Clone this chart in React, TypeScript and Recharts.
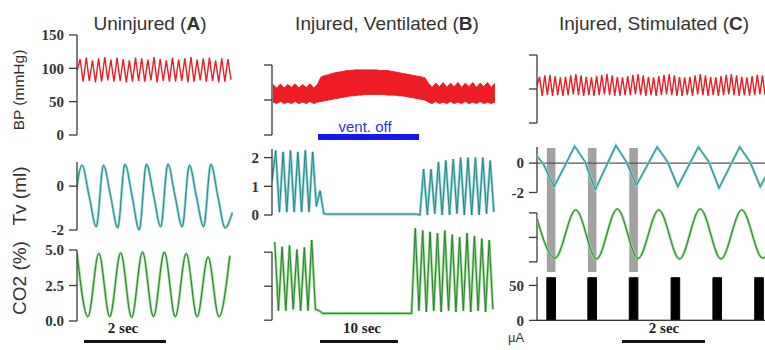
import React from 'react';
import { ComposedChart, Line, Area, XAxis, YAxis, ReferenceLine, ReferenceArea } from 'recharts';

const SANS = '"Liberation Sans", Arial, sans-serif';
const SERIF = '"Liberation Serif", "Times New Roman", serif';
const INK = '#3a3a3a';
const RED = '#ee1d24';
const TEAL_HALO = '#86d3d4';
const TEAL = '#2f8283';
const GREEN_HALO = '#8fd987';
const GREEN = '#2f7a35';

// seconds shown in each column
const spanA = 3.9;
const spanB = 32.8;
const spanC = 5.56;

// A: uninjured (BP mmHg, Tv ml, CO2 %)
const bpA = [
  96, 114, 80, 116, 81, 112, 79, 115, 80, 117,
  82, 113, 80, 116, 81, 114, 79, 112, 80, 116,
  81, 115, 80, 113, 82, 117, 79, 114, 81, 112,
  80, 116, 80, 113, 81, 115, 79, 117, 80, 113,
  82, 115, 80, 116, 81, 112, 79, 115, 80, 114, 83,
];
const tvA = [-0.8, 0.95, -0.45, -1.85, 0.95, -0.45, -1.9, 1.0, -0.45, -2.0, 1.0, -0.4, -1.85, 1.0, -0.45, -1.85, 0.95, -0.5, -1.85, 1.0, -0.5, -1.9, -1.2];
const co2A = [4.8, 0.3, 4.75, 0.3, 4.8, 0.25, 4.85, 0.3, 4.85, 0.3, 4.75, 0.3, 4.5, 0.3, 4.6];

// B: injured, ventilation stopped for a while
const bpBHigh = [
  72, 67, 73, 67, 72, 68, 73, 67, 72, 68, 73, 67, 72,
  83, 85, 86, 88, 89, 90, 91, 92, 92, 93, 93, 93, 93, 93, 93, 93, 92, 92, 92, 91, 90, 89, 88, 87, 86, 85, 84, 83, 82,
  74, 68, 74, 69, 75, 68, 74, 69, 75, 68, 74, 69, 75, 68, 74, 69, 75, 68, 74,
];
const bpBLow = [
  47, 45, 48, 45, 47, 45, 48, 45, 47, 45, 48, 45, 47,
  48, 49, 50, 51, 52, 53, 54, 55, 56, 56, 57, 57, 58, 58, 58, 58, 58, 58, 57, 57, 57, 56, 56, 55, 54, 53, 52, 51, 50,
  47, 45, 48, 45, 47, 45, 48, 45, 47, 45, 48, 45, 47, 45, 48, 45, 47, 45, 47,
];
const tvB = [
  1.2, 2.25, 0.1, 2.2, 0.1, 2.25, 0.1, 2.2, 0.1, 2.25, 0.1, 2.2,
  0.3, 0.85, 0.05,
  0.03, 0.03, 0.03, 0.03, 0.03, 0.03, 0.03, 0.03, 0.03, 0.03, 0.03, 0.03, 0.03,
  0.03, 0.03, 0.03, 0.03, 0.03, 0.03, 0.03, 0.03, 0.03, 0.03, 0.03, 0.03, 0.0,
  1.6, 0.0, 1.6, 0.05, 1.85, 0.0, 1.9, 0.0, 1.95, 0.05, 2.0, 0.0, 2.0, 0.0, 2.0, 0.0, 2.0, 0.05, 1.9, 0.1,
];
const co2B = [
  5.75, 0.7, 5.4, 0.7, 5.5, 0.8, 5.2, 0.7, 5.35, 0.7, 5.9, 0.8,
  0.7, 0.5, 0.5, 0.5, 0.5, 0.5, 0.5, 0.5, 0.5, 0.5, 0.5, 0.5, 0.5,
  0.5, 0.5, 0.5, 0.5, 0.5, 0.5, 0.5, 0.5, 0.5, 0.5, 0.5, 0.5, 0.5,
  6.75, 0.7, 6.6, 0.6, 6.5, 0.7, 6.4, 0.6, 6.6, 0.7, 6.3, 0.6, 6.1, 0.7, 6.4, 0.6, 6.2, 0.7, 6.0, 0.6, 5.9, 0.8,
];

// C: injured, phrenic stimulation
const bpC = [
  55, 68, 40, 70, 41, 71, 40, 69, 41, 67,
  40, 68, 41, 70, 42, 72, 41, 70, 40, 68,
  41, 67, 40, 69, 41, 71, 42, 72, 41, 70,
  40, 68, 40, 67, 41, 69, 41, 71, 42, 72,
  41, 70, 40, 68, 41, 67, 40, 69, 41, 71,
  42, 72, 41, 70, 40, 68, 40, 67, 41, 68,
  40, 70, 42, 72, 41, 70, 40, 68, 41, 67,
  40, 69, 41, 71, 42, 72, 41, 70, 40, 68,
  41, 67, 40, 69, 41, 71, 42, 70, 41,
];
const tvC = [0.8, -0.1, -1.6, -0.25, 1.15, 0.1, -1.8, -0.3, 1.2, 0.1, -1.5, -0.2, 1.1, 0.1, -1.6, -0.25, 1.1, 0.1, -1.7, -0.3, 1.1, 0.1, -1.6, -0.3];
const co2C = [5.4, 0.4, 5.3, 0.3, 5.4, 0.35, 5.3, 0.3, 5.4, 0.3, 5.3, 0.4, 5.2];
const stimOn = [0.24, 1.24, 2.25, 3.27, 4.29, 5.31];
const stimWidth = 0.21;
const stimAmp = 61;

const pts = (vals: number[], t0: number, dt: number) => vals.map((v, i) => ({ t: t0 + i * dt, v }));

const bpBData = bpBLow.map((lo, i) => ({ t: 0.15 + i * 0.544, range: [lo, bpBHigh[i]] }));
const stimData = [
  { t: 0, v: 0 },
  ...stimOn.flatMap((on) => [{ t: on, v: stimAmp }, { t: on + stimWidth, v: 0 }]),
  { t: spanC + 0.3, v: 0 },
];

const AXW = 46;
const PADX = 4;
const PADY = 11;

type TraceProps = {
  x: number; y: number; w: number; h: number;
  span: number;
  domain: [number, number];
  ticks: number[];
  fmt?: (v: number) => string;
  bracket?: [number, number];
  children?: React.ReactNode;
};

function Trace({ x, y, w, h, span, domain, ticks, fmt, bracket, children }: TraceProps) {
  return (
    <div style={{ position: 'absolute', left: x - AXW, top: y - PADY }}>
      <ComposedChart width={AXW + w + PADX} height={h + 2 * PADY} margin={{ top: PADY, right: PADX, bottom: PADY, left: 0 }}>
        <XAxis type="number" dataKey="t" domain={[0, span]} allowDataOverflow hide />
        <YAxis
          type="number"
          width={AXW}
          domain={domain}
          ticks={ticks}
          interval={0}
          axisLine={bracket ? false : { stroke: INK, strokeWidth: 1.3 }}
          tickLine={{ stroke: INK, strokeWidth: 1.3 }}
          tickSize={8}
          tickMargin={5}
          tick={{ fill: '#333', fontSize: 15, fontFamily: SERIF, fontWeight: 700 }}
          tickFormatter={fmt ?? (() => '')}
        />
        {bracket && (
          <ReferenceLine
            ifOverflow="visible"
            stroke={INK}
            strokeWidth={1.3}
            segment={[{ x: 0, y: bracket[0] }, { x: 0, y: bracket[1] }]}
          />
        )}
        {children}
      </ComposedChart>
    </div>
  );
}

const glow = (data: { t: number; v: number }[], halo: string, core: string, type: 'linear' | 'monotone') => [
  <Line key="halo" data={data} dataKey="v" type={type} stroke={halo} strokeWidth={2.6} dot={false} isAnimationActive={false} />,
  <Line key="core" data={data} dataKey="v" type={type} stroke={core} strokeWidth={1} dot={false} isAnimationActive={false} />,
];

const Label = ({ x, y, size, children }: { x: number; y: number; size: number; children: React.ReactNode }) => (
  <div style={{ position: 'absolute', left: x, top: y, transform: 'translate(-50%, -50%) rotate(-90deg)', whiteSpace: 'nowrap', fontSize: size, lineHeight: 1, color: '#333' }}>
    {children}
  </div>
);

const Title = ({ x, children }: { x: number; children: React.ReactNode }) => (
  <div style={{ position: 'absolute', left: x, top: 23, transform: 'translate(-50%, -50%)', whiteSpace: 'nowrap', fontSize: 19, lineHeight: 1, color: '#333' }}>
    {children}
  </div>
);

const ScaleBar = ({ x1, x2, cx, label }: { x1: number; x2: number; cx: number; label: string }) => (
  <>
    <div style={{ position: 'absolute', left: cx, top: 328, transform: 'translate(-50%, -50%)', fontFamily: SERIF, fontWeight: 700, fontSize: 15, lineHeight: 1, whiteSpace: 'nowrap', color: '#222' }}>
      {label}
    </div>
    <div style={{ position: 'absolute', left: x1, top: 340, width: x2 - x1, height: 3, background: '#111' }} />
  </>
);

const App: React.FC = () => {
  const fmt1 = (v: number) => v.toFixed(1);
  const fmt0 = (v: number) => String(v);
  return (
    <div style={{ position: 'absolute', left: 0, top: 0, width: 765, height: 350, overflow: 'hidden', background: '#fff', fontFamily: SANS }}>
      <Title x={150}>Uninjured (<b>A</b>)</Title>
      <Title x={387}>Injured, Ventilated (<b>B</b>)</Title>
      <Title x={654}>Injured, Stimulated (<b>C</b>)</Title>

      <Label x={19} y={90} size={15.5}>BP (mmHg)</Label>
      <Label x={19} y={196} size={19}>Tv (ml)</Label>
      <Label x={19} y={278} size={19}>CO2 (%)</Label>

      {/* A */}
      <Trace x={77} y={35} w={156} h={100} span={spanA} domain={[0, 150]} ticks={[0, 50, 100, 150]} fmt={fmt0}>
        <Line data={pts(bpA, 0, 0.077)} dataKey="v" type="linear" stroke={RED} strokeWidth={1.4} dot={false} isAnimationActive={false} />
      </Trace>
      <Trace x={77} y={162} w={156} h={68} span={spanA} domain={[-2, 1.1]} ticks={[-2, 0]} fmt={fmt0}>
        {glow(pts(tvA, -0.055, 0.179), TEAL_HALO, TEAL, 'monotone')}
      </Trace>
      <Trace x={77} y={250} w={156} h={71} span={spanA} domain={[0, 5]} ticks={[0, 2.5, 5]} fmt={fmt1}>
        {glow(pts(co2A, 0, 0.273), GREEN_HALO, GREEN, 'monotone')}
      </Trace>
      <ScaleBar x1={84} x2={166} cx={123} label="2 sec" />

      {/* B */}
      <Trace x={272} y={65} w={223} h={70} span={spanB} domain={[0, 100]} ticks={[0, 50, 100]}>
        <Area data={bpBData} dataKey="range" type="linear" stroke={RED} strokeWidth={1} fill={RED} fillOpacity={1} isAnimationActive={false} />
      </Trace>
      <div style={{ position: 'absolute', left: 365, top: 126, transform: 'translate(-50%, -50%)', fontSize: 15, lineHeight: 1, color: '#2d36d8', whiteSpace: 'nowrap' }}>vent. off</div>
      <div style={{ position: 'absolute', left: 318, top: 134, width: 101, height: 6, background: '#1616f5' }} />
      <Trace x={272} y={149} w={223} h={66} span={spanB} domain={[0, 2.3]} ticks={[0, 1, 2]} fmt={fmt0}>
        {glow(pts(tvB, 0, 0.544), TEAL_HALO, TEAL, 'linear')}
      </Trace>
      <Trace x={272} y={224.8} w={223} h={95.2} span={spanB} domain={[0, 7]} ticks={[0, 2.5, 5]} bracket={[0, 5]}>
        {glow(pts(co2B, 0.4, 0.544), GREEN_HALO, GREEN, 'linear')}
      </Trace>
      <ScaleBar x1={320} x2={398} cx={362} label="10 sec" />

      {/* C */}
      <Trace x={537} y={55} w={228} h={68} span={spanC} domain={[0, 100]} ticks={[0, 50, 100]}>
        <Line data={pts(bpC, 0, 0.0632)} dataKey="v" type="linear" stroke={RED} strokeWidth={1.4} dot={false} isAnimationActive={false} />
      </Trace>
      <div style={{ position: 'absolute', left: 537, top: 148 }}>
        <ComposedChart width={228} height={124} margin={{ top: 0, right: 0, bottom: 0, left: 0 }} data={[{ t: 0, v: 0 }, { t: spanC, v: 1 }]}>
          <XAxis type="number" dataKey="t" domain={[0, spanC]} hide />
          <YAxis type="number" domain={[0, 1]} hide width={0} />
          <Line dataKey="v" stroke="none" dot={false} isAnimationActive={false} />
          {stimOn.slice(0, 3).map((on) => (
            <ReferenceArea key={on} x1={on} x2={on + stimWidth} y1={0} y2={1} fill="#9d9d9d" fillOpacity={0.95} stroke="none" />
          ))}
        </ComposedChart>
      </div>
      <Trace x={537} y={144.2} w={228} h={48.5} span={spanC} domain={[-2, 1.3]} ticks={[-2, 0]} fmt={fmt0} bracket={[-2, 1.1]}>
        <ReferenceLine y={0} stroke="#555" strokeWidth={1.2} />
        {glow(pts(tvC, -0.088, 0.2515), TEAL_HALO, TEAL, 'linear')}
      </Trace>
      <Trace x={537} y={207.1} w={228} h={54.9} span={spanC} domain={[0, 5.6]} ticks={[0, 2.5, 5]} bracket={[0, 5]}>
        {glow(pts(co2C, -0.066, 0.506), GREEN_HALO, GREEN, 'monotone')}
      </Trace>
      <Trace x={537} y={276.6} w={228} h={43.4} span={spanC} domain={[0, 62]} ticks={[0, 50]} fmt={fmt0}>
        <ReferenceLine y={0} stroke={INK} strokeWidth={1.3} />
        <Area data={stimData} dataKey="v" type="stepAfter" stroke="#000" fill="#000" fillOpacity={1} isAnimationActive={false} />
      </Trace>
      <div style={{ position: 'absolute', left: 508, top: 331, fontSize: 13, lineHeight: 1, color: '#333' }}>µA</div>
      <ScaleBar x1={622} x2={705} cx={664} label="2 sec" />
    </div>
  );
};

export default App;
